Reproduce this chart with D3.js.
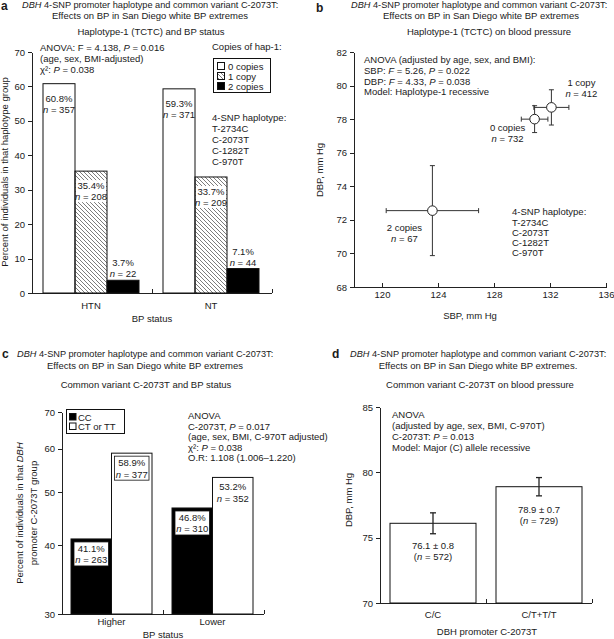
<!DOCTYPE html>
<html>
<head>
<meta charset="utf-8">
<script src="https://cdn.jsdelivr.net/npm/d3@7"></script>
<style>
  body { margin: 0; background: #fff; }
  svg text { font-family: "Liberation Sans", Arial, sans-serif; font-size: 9.5px; fill: #1a1a1a; }
  .axis path, .axis line { stroke: #222; shape-rendering: crispEdges; }
  .axis text { font-family: "Liberation Sans", Arial, sans-serif; font-size: 9.5px; fill: #1a1a1a; }
</style>
</head>
<body>
<svg id="fig" width="614" height="639"></svg>
<script>
// ---- panel a: haplotype-1 copies by BP status (percent) ----
var hapGroups = ["HTN", "NT"];
var hapCopies = ["0 copies", "1 copy", "2 copies"];
var hapPct = [[60.8, 35.4, 3.7], [59.3, 33.7, 7.1]];
var hapN = [[357, 208, 22], [371, 209, 44]];
var hapTicks = [0, 10, 20, 30, 40, 50, 60, 70];

// ---- panel b: SBP / DBP by copies (mean +- error) ----
var bpCopies = ["0 copies", "1 copy", "2 copies"];
var bpSbp = [130.9, 132.1, 123.6];
var bpSbpErr = [0.95, 1.25, 3.3];
var bpDbp = [78.0, 78.7, 72.55];
var bpDbpErr = [0.8, 1.05, 2.68];
var bpN = [732, 412, 67];
var bpXTicks = [120, 124, 128, 132, 136];
var bpYTicks = [68, 70, 72, 74, 76, 78, 80, 82];

// ---- panel c: C-2073T genotype by BP status (percent, log axis) ----
var varGroups = ["Higher", "Lower"];
var varGeno = ["CC", "CT or TT"];
var varPct = [[41.1, 58.9], [46.8, 53.2]];
var varN = [[263, 377], [310, 352]];
var varTicks = [30, 40, 50, 60, 70];

// ---- panel d: DBP by C-2073T genotype ----
var dGeno = ["C/C", "C/T+T/T"];
var dMean = [76.1, 78.9];
var dSe = [0.8, 0.7];
var dN = [572, 729];
var dTicks = [70, 75, 80, 85];

var snps = ["T-2734C", "C-2073T", "C-1282T", "C-970T"];

var svg = d3.select("#fig");

var defs = svg.append("defs");
defs.append("pattern")
    .attr("id", "hatch")
    .attr("patternUnits", "userSpaceOnUse")
    .attr("width", 4).attr("height", 4)
  .append("path")
    .attr("d", "M0,0 L4,4 M-1,3 L1,5 M3,-1 L5,1")
    .attr("stroke", "#444")
    .attr("stroke-width", 0.7);

// text with *italic* parts
function rich(sel, str) {
  str.split("*").forEach(function(s, i) {
    if (s) sel.append("tspan").attr("font-style", i % 2 ? "italic" : null).text(s);
  });
}
function label(g, x, y, str, anchor) {
  var t = g.append("text").attr("x", x).attr("y", y).attr("text-anchor", anchor || "start");
  rich(t, str);
  return t;
}
function vlabel(g, x, y, str) {
  var t = g.append("text")
    .attr("transform", "translate(" + x + "," + y + ") rotate(-90)")
    .attr("text-anchor", "middle");
  rich(t, str);
  return t;
}
function heading(letter, lx, ly, x1, y1, cx2, y2, sub, cx3, y3) {
  svg.append("text").attr("x", lx).attr("y", ly)
    .style("font-size", "12px").style("font-weight", "bold").text(letter);
  label(svg, x1, y1, "*DBH* 4-SNP promoter haplotype and common variant C-2073T:")
    .style("font-size", "9.2px");
  label(svg, cx2, y2, sub[0], "middle");
  label(svg, cx3, y3, sub[1], "middle");
}
// category axis: baseline with small upward ticks at band ends
function bandAxis(g, x, y0) {
  var r = x.range();
  g.append("line").attr("x1", r[0]).attr("x2", r[1]).attr("y1", y0).attr("y2", y0)
    .attr("stroke", "#222").style("shape-rendering", "crispEdges");
  g.selectAll(".bt").data(x.domain()).enter().append("line")
    .attr("x1", function(d) { return x(d) + x.bandwidth(); })
    .attr("x2", function(d) { return x(d) + x.bandwidth(); })
    .attr("y1", y0).attr("y2", y0 - 4)
    .attr("stroke", "#222").style("shape-rendering", "crispEdges");
}

//************************ Panel a *************************/
(function() {
  heading("a", 1, 10, 22, 8, 150, 19,
    ["Effects on BP in San Diego white BP extremes", "Haplotype-1 (TCTC) and BP status"], 151, 35);

  var g = svg.append("g");
  var y = d3.scaleLinear().domain([0, 70]).range([293, 52]);
  var x0 = d3.scaleBand().domain(hapGroups).range([32, 272]);
  var x1 = d3.scaleBand().domain(hapCopies).range([11, 107]);
  var fills = ["#fff", "url(#hatch)", "#000"];

  g.append("g").attr("class", "axis").attr("transform", "translate(32,0)")
    .call(d3.axisLeft(y).tickValues(hapTicks).tickSize(4).tickPadding(3).tickSizeOuter(0));
  bandAxis(g, x0, 293);

  var bars = [];
  hapGroups.forEach(function(grp, gi) {
    hapCopies.forEach(function(c, ci) {
      bars.push({ grp: grp, copy: c, ci: ci, v: hapPct[gi][ci], n: hapN[gi][ci] });
    });
  });

  g.selectAll(".bar").data(bars).enter().append("rect")
    .attr("x", function(d) { return x0(d.grp) + x1(d.copy); })
    .attr("y", function(d) { return y(d.v); })
    .attr("width", x1.bandwidth())
    .attr("height", function(d) { return y(0) - y(d.v); })
    .attr("fill", function(d) { return fills[d.ci]; })
    .attr("stroke", "#111").attr("stroke-width", 1);

  bars.forEach(function(d) {
    var bx = x0(d.grp) + x1(d.copy);
    var cx = bx + x1.bandwidth() / 2;
    var top = y(d.v);
    var inside = d.v > 20;
    var b1 = inside ? top + 18 : top - 14;
    if (inside && d.ci === 1) {
      // clear the hatching behind the label
      g.append("rect").attr("x", bx + 1).attr("y", b1 - 9)
        .attr("width", x1.bandwidth() - 2).attr("height", 22).attr("fill", "#fff");
    }
    label(g, cx, b1, d.v.toFixed(1) + "%", "middle");
    label(g, cx, b1 + 11, "*n* = " + d.n, "middle");
  });

  hapGroups.forEach(function(grp) {
    label(g, x0(grp) + 59, 309, grp, "middle");
  });
  label(g, 152, 322, "BP status", "middle");
  vlabel(g, 8, 172, "Percent of individuals in that haplotype group");

  label(g, 40, 51, "ANOVA: F = 4.138, *P* = 0.016");
  label(g, 40, 62, "(age, sex, BMI-adjusted)");
  label(g, 40, 73, "\u03c7\u00b2: *P* = 0.038");

  // legend
  label(g, 212, 50, "Copies of hap-1:");
  g.append("rect").attr("x", 213.5).attr("y", 58.5).attr("width", 57).attr("height", 34)
    .attr("fill", "none").attr("stroke", "#111");
  hapCopies.forEach(function(c, i) {
    g.append("rect").attr("x", 217.5).attr("y", 62.5 + i * 10).attr("width", 7).attr("height", 7)
      .attr("fill", fills[i]).attr("stroke", "#111");
    label(g, 228, 69.5 + i * 10, c);
  });

  label(g, 212, 121, "4-SNP haplotype:");
  snps.forEach(function(s, i) { label(g, 212, 132 + i * 11, s); });
})();

//************************ Panel b *************************/
(function() {
  heading("b", 316, 12, 351, 8, 481, 19,
    ["Effects on BP in San Diego white BP extremes", "Haplotype-1 (TCTC) on blood pressure"], 489, 35);

  var g = svg.append("g");
  var x = d3.scaleLinear().domain([118, 136]).range([354, 606]);
  var y = d3.scaleLinear().domain([68, 82]).range([287, 52]);

  g.append("g").attr("class", "axis").attr("transform", "translate(354,0)")
    .call(d3.axisLeft(y).tickValues(bpYTicks).tickSize(4).tickPadding(3).tickSizeOuter(0));
  g.append("g").attr("class", "axis").attr("transform", "translate(0,287)")
    .call(d3.axisBottom(x).tickValues(bpXTicks).tickSize(-4).tickPadding(4).tickSizeOuter(0));

  var pts = bpCopies.map(function(c, i) {
    return { name: c, sx: bpSbp[i], ex: bpSbpErr[i], dy: bpDbp[i], ey: bpDbpErr[i], n: bpN[i] };
  });
  var cap = 2.5;
  var eb = g.selectAll(".eb").data(pts).enter().append("g")
    .attr("stroke", "#333").attr("stroke-width", 1);
  eb.append("line")
    .attr("x1", function(d) { return x(d.sx - d.ex); }).attr("x2", function(d) { return x(d.sx + d.ex); })
    .attr("y1", function(d) { return y(d.dy); }).attr("y2", function(d) { return y(d.dy); });
  eb.append("line")
    .attr("x1", function(d) { return x(d.sx); }).attr("x2", function(d) { return x(d.sx); })
    .attr("y1", function(d) { return y(d.dy - d.ey); }).attr("y2", function(d) { return y(d.dy + d.ey); });
  [-1, 1].forEach(function(s) {
    eb.append("line")
      .attr("x1", function(d) { return x(d.sx + s * d.ex); }).attr("x2", function(d) { return x(d.sx + s * d.ex); })
      .attr("y1", function(d) { return y(d.dy) - cap; }).attr("y2", function(d) { return y(d.dy) + cap; });
    eb.append("line")
      .attr("x1", function(d) { return x(d.sx) - cap; }).attr("x2", function(d) { return x(d.sx) + cap; })
      .attr("y1", function(d) { return y(d.dy + s * d.ey); }).attr("y2", function(d) { return y(d.dy + s * d.ey); });
  });
  g.selectAll(".pt").data(pts).enter().append("circle")
    .attr("cx", function(d) { return x(d.sx); })
    .attr("cy", function(d) { return y(d.dy); })
    .attr("r", 4.8).attr("fill", "#fff").attr("stroke", "#222").attr("stroke-width", 1);

  // label offsets from each point
  var offs = [[-27, 12], [30, -21], [-28, 20]];
  pts.forEach(function(d, i) {
    var px = x(d.sx) + offs[i][0], py = y(d.dy) + offs[i][1];
    label(g, px, py, d.name, "middle");
    label(g, px, py + 11, "*n* = " + d.n, "middle");
  });

  label(g, 364, 63, "ANOVA (adjusted by age, sex, and BMI):");
  label(g, 364, 74, "SBP: *F* = 5.26, *P* = 0.022");
  label(g, 364, 85, "DBP: *F* = 4.33, *P* = 0.038");
  label(g, 364, 95, "Model: Haplotype-1 recessive");

  label(g, 512, 215, "4-SNP haplotype:");
  snps.forEach(function(s, i) { label(g, 512, 226 + i * 10, s); });

  label(g, 470, 319, "SBP, mm Hg", "middle");
  vlabel(g, 323, 170, "DBP, mm Hg");
})();

//************************ Panel c *************************/
(function() {
  heading("c", 2, 358, 17, 357, 145, 369,
    ["Effects on BP in San Diego white BP extremes", "Common variant C-2073T and BP status"], 146, 388);

  var g = svg.append("g");
  var y = d3.scaleLog().domain([30, 70]).range([614, 412]);
  var x0 = d3.scaleBand().domain(varGroups).range([62, 264]);
  var x1 = d3.scaleBand().domain(varGeno).range([9, 90]);
  var fills = ["#000", "#fff"];

  g.append("g").attr("class", "axis").attr("transform", "translate(62,0)")
    .call(d3.axisLeft(y).tickValues(varTicks).tickFormat(d3.format("d"))
      .tickSize(4).tickPadding(3).tickSizeOuter(0));
  bandAxis(g, x0, 614);

  var bars = [];
  varGroups.forEach(function(grp, gi) {
    varGeno.forEach(function(c, ci) {
      bars.push({ grp: grp, geno: c, ci: ci, v: varPct[gi][ci], n: varN[gi][ci] });
    });
  });

  g.selectAll(".bar").data(bars).enter().append("rect")
    .attr("x", function(d) { return x0(d.grp) + x1(d.geno); })
    .attr("y", function(d) { return y(d.v); })
    .attr("width", x1.bandwidth())
    .attr("height", function(d) { return y(30) - y(d.v); })
    .attr("fill", function(d) { return fills[d.ci]; })
    .attr("stroke", "#111").attr("stroke-width", 1);

  bars.forEach(function(d) {
    var bx = x0(d.grp) + x1(d.geno);
    var top = y(d.v);
    var boxed = !(d.grp === "Lower" && d.ci === 1);
    if (boxed) {
      g.append("rect").attr("x", bx + 3).attr("y", top + 3)
        .attr("width", x1.bandwidth() - 6).attr("height", 24)
        .attr("fill", "#fff").attr("stroke", "#111").attr("stroke-width", 0.8);
    }
    label(g, bx + x1.bandwidth() / 2, top + 13, d.v.toFixed(1) + "%", "middle");
    label(g, bx + x1.bandwidth() / 2, top + 24.5, "*n* = " + d.n, "middle");
  });

  varGroups.forEach(function(grp) {
    label(g, x0(grp) + 49.5, 625, grp, "middle");
  });
  label(g, 163, 638, "BP status", "middle");
  vlabel(g, 23, 513, "Percent of individuals in that *DBH*");
  vlabel(g, 37, 513, "promoter C-2073T group");

  // legend
  g.append("rect").attr("x", 66.5).attr("y", 409.5).attr("width", 58).attr("height", 24)
    .attr("fill", "#fff").attr("stroke", "#111");
  varGeno.forEach(function(c, i) {
    g.append("rect").attr("x", 69.5).attr("y", 413.5 + i * 9.5).attr("width", 6.5).attr("height", 6.5)
      .attr("fill", fills[i]).attr("stroke", "#111");
    label(g, 78, 420.5 + i * 9.5, c);
  });

  label(g, 188, 419, "ANOVA");
  label(g, 188, 429.5, "C-2073T, *P* = 0.017");
  label(g, 188, 440, "(age, sex, BMI, C-970T adjusted)");
  label(g, 188, 450.5, "\u03c7\u00b2: *P* = 0.038");
  label(g, 188, 461, "O.R: 1.108 (1.006\u20131.220)");
})();

//************************ Panel d *************************/
(function() {
  heading("d", 332, 358, 350, 357, 478, 369,
    ["Effects on BP in San Diego white BP extremes.", "Common variant C-2073T on blood pressure"], 480, 388);

  var g = svg.append("g");
  var y = d3.scaleLinear().domain([70, 85]).range([603, 407]);
  var x = d3.scaleBand().domain(dGeno).range([380, 592]);
  var pad = 10;

  g.append("g").attr("class", "axis").attr("transform", "translate(380,0)")
    .call(d3.axisLeft(y).tickValues(dTicks).tickSize(4).tickPadding(3).tickSizeOuter(0));
  bandAxis(g, x, 603);

  var bars = dGeno.map(function(c, i) { return { geno: c, m: dMean[i], se: dSe[i], n: dN[i] }; });

  g.selectAll(".bar").data(bars).enter().append("rect")
    .attr("x", function(d) { return x(d.geno) + pad; })
    .attr("y", function(d) { return y(d.m); })
    .attr("width", x.bandwidth() - 2 * pad)
    .attr("height", function(d) { return y(70) - y(d.m); })
    .attr("fill", "#fff").attr("stroke", "#111").attr("stroke-width", 1);

  var eb = g.selectAll(".eb").data(bars).enter().append("g")
    .attr("stroke", "#222").attr("stroke-width", 1.3);
  function cx(d) { return x(d.geno) + x.bandwidth() / 2; }
  eb.append("line").attr("x1", cx).attr("x2", cx)
    .attr("y1", function(d) { return y(d.m - d.se); })
    .attr("y2", function(d) { return y(d.m + d.se); });
  [-1, 1].forEach(function(s) {
    eb.append("line")
      .attr("x1", function(d) { return cx(d) - 3; }).attr("x2", function(d) { return cx(d) + 3; })
      .attr("y1", function(d) { return y(d.m + s * d.se); })
      .attr("y2", function(d) { return y(d.m + s * d.se); });
  });

  bars.forEach(function(d) {
    var top = y(d.m);
    label(g, cx(d), top + 26, d.m.toFixed(1) + " \u00b1 " + d.se.toFixed(1), "middle");
    label(g, cx(d), top + 37, "(*n* = " + d.n + ")", "middle");
    label(g, cx(d), 618, d.geno, "middle");
  });

  label(g, 487, 635, "DBH promoter C-2073T", "middle");
  vlabel(g, 352, 500, "DBP, mm Hg");

  label(g, 392, 418, "ANOVA");
  label(g, 392, 429, "(adjusted by age, sex, BMI, C-970T)");
  label(g, 392, 440, "C-2073T: *P* = 0.013");
  label(g, 392, 451, "Model: Major (C) allele recessive");
})();
</script>
</body>
</html>
